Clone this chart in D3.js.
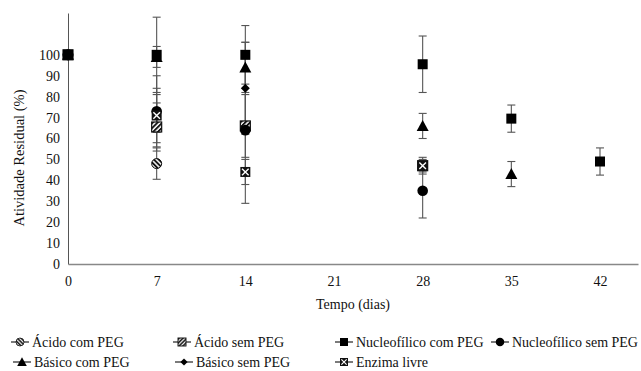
<!DOCTYPE html>
<html>
<head>
<meta charset="utf-8">
<script src="https://cdn.jsdelivr.net/npm/d3@7"></script>
<style>
  body { margin: 0; background: #fff; }
</style>
</head>
<body>
<svg id="chart" width="641" height="371"></svg>
<script>
var FONT = "'Liberation Serif', 'Times New Roman', Times, serif";

// days on the x axis
var days = [0, 7, 14, 21, 28, 35, 42];
var xTicks = [0, 7, 14, 21, 28, 35, 42];
var yTicks = [0, 10, 20, 30, 40, 50, 60, 70, 80, 90, 100];

// residual activity (%) per series, null = not measured
var acidoComPEG     = [100, 48,   null, null, null, null, null];
var acidoComPEGErr  = [0,   7.5,  null, null, null, null, null];
var acidoSemPEG     = [100, 65.5, 66,   null, 47,   null, null];
var acidoSemPEGErr  = [0,   11.5, 15,   null, 4,    null, null];
var nucComPEG       = [100, 100,  100,  null, 95.5, 69.5, 49];
var nucComPEGErr    = [0,   18,   14,   null, 13.5, 6.5,  6.5];
var nucSemPEG       = [100, 73,   64,   null, 35,   null, null];
var nucSemPEGErr    = [0,   17,   35,   null, 13,   null, null];
var basicoComPEG    = [100, 99,   94,   null, 66,   43,   null];
var basicoComPEGErr = [0,   5,    12,   null, 6,    6,    null];
var basicoSemPEG    = [100, 72,   84,   null, null, null, null];
var basicoSemPEGErr = [0,   9,    22,   null, null, null, null];
var enzimaLivre     = [100, 71,   44,   null, 47,   null, null];
var enzimaLivreErr  = [0,   13,   6,    null, 3,    null, null];

var series = [
  {name: "Ácido com PEG", values: acidoComPEG, err: acidoComPEGErr, shape: "hatchCircle"},
  {name: "Ácido sem PEG", values: acidoSemPEG, err: acidoSemPEGErr, shape: "hatchSquare"},
  {name: "Nucleofílico com PEG", values: nucComPEG, err: nucComPEGErr, shape: "square"},
  {name: "Nucleofílico sem PEG", values: nucSemPEG, err: nucSemPEGErr, shape: "circle"},
  {name: "Básico com PEG", values: basicoComPEG, err: basicoComPEGErr, shape: "triangle"},
  {name: "Básico sem PEG", values: basicoSemPEG, err: basicoSemPEGErr, shape: "diamond"},
  {name: "Enzima livre", values: enzimaLivre, err: enzimaLivreErr, shape: "xSquare"}
];
// marker stacking order (the black square sits on top in the picture)
var drawOrder = [0, 1, 3, 4, 5, 6, 2];

var svg = d3.select("#chart");

var x = d3.scaleLinear().domain([0, 45]).range([68, 638]);
var y = d3.scaleLinear().domain([0, 120]).range([264, 13]);

// hatch patterns
var defs = svg.append("defs");
function hatch(id, angle) {
  var p = defs.append("pattern")
      .attr("id", id)
      .attr("patternUnits", "userSpaceOnUse")
      .attr("width", 3.4)
      .attr("height", 3.4)
      .attr("patternTransform", "rotate(" + angle + ")");
  p.append("rect").attr("width", 3.4).attr("height", 3.4).attr("fill", "#fff");
  p.append("rect").attr("width", 1.9).attr("height", 3.4).attr("fill", "#111");
}
hatch("hatchA", -45);
hatch("hatchB", 45);

// axes
var yAxis = svg.append("g")
    .attr("transform", "translate(" + x(0) + ",0)")
    .call(d3.axisLeft(y).tickValues(yTicks).tickSize(0).tickPadding(8));
yAxis.select(".domain").attr("stroke", "#555").attr("stroke-width", 1);

var xAxis = svg.append("g")
    .attr("transform", "translate(0," + y(0) + ")")
    .call(d3.axisBottom(x).tickValues(xTicks).tickSize(0).tickPadding(12));
xAxis.select(".domain").attr("stroke", "#888").attr("stroke-width", 1.3);

svg.selectAll(".tick text")
    .attr("fill", "#111")
    .style("font-family", FONT)
    .style("font-size", "14px");

svg.append("text")
    .attr("x", 353).attr("y", 309)
    .attr("text-anchor", "middle")
    .style("font-family", FONT)
    .style("font-size", "14px")
    .attr("fill", "#111")
    .text("Tempo (dias)");

svg.append("text")
    .attr("transform", "translate(24," + 158 + ") rotate(-90)")
    .attr("text-anchor", "middle")
    .style("font-family", FONT)
    .style("font-size", "14.5px")
    .attr("fill", "#111")
    .text("Atividade Residual (%)");

// marker drawing
function drawMarker(g, shape) {
  if (shape === "square") {
    g.append("rect").attr("x", -5).attr("y", -5).attr("width", 10).attr("height", 10).attr("fill", "#000");
  } else if (shape === "circle") {
    g.append("circle").attr("r", 5.3).attr("fill", "#000");
  } else if (shape === "triangle") {
    g.append("path").attr("d", "M0,-6L6,5L-6,5Z").attr("fill", "#000");
  } else if (shape === "diamond") {
    g.append("path").attr("d", "M0,-4.5L4.5,0L0,4.5L-4.5,0Z").attr("fill", "#000");
  } else if (shape === "hatchCircle") {
    g.append("circle").attr("r", 5).attr("fill", "url(#hatchA)").attr("stroke", "#111").attr("stroke-width", 1);
  } else if (shape === "hatchSquare") {
    g.append("rect").attr("x", -5).attr("y", -5).attr("width", 10).attr("height", 10)
        .attr("fill", "url(#hatchB)").attr("stroke", "#111").attr("stroke-width", 1.2);
  } else if (shape === "xSquare") {
    g.append("rect").attr("x", -5).attr("y", -5).attr("width", 10).attr("height", 10).attr("fill", "#111");
    g.append("path").attr("d", "M-3.3,-3.3L3.3,3.3M3.3,-3.3L-3.3,3.3")
        .attr("stroke", "#fff").attr("stroke-width", 1.4);
  }
}

// error bars first, then markers
var plot = svg.append("g");
series.forEach(function(s) {
  days.forEach(function(d, i) {
    var v = s.values[i];
    if (v === null || !s.err[i]) return;
    var e = s.err[i];
    var g = plot.append("g").attr("stroke", "#555").attr("stroke-width", 1.1);
    g.append("line").attr("x1", x(d)).attr("x2", x(d)).attr("y1", y(v - e)).attr("y2", y(v + e));
    g.append("line").attr("x1", x(d) - 4).attr("x2", x(d) + 4).attr("y1", y(v - e)).attr("y2", y(v - e));
    g.append("line").attr("x1", x(d) - 4).attr("x2", x(d) + 4).attr("y1", y(v + e)).attr("y2", y(v + e));
  });
});

drawOrder.forEach(function(k) {
  var s = series[k];
  days.forEach(function(d, i) {
    var v = s.values[i];
    if (v === null) return;
    var g = plot.append("g").attr("transform", "translate(" + x(d) + "," + y(v) + ")");
    drawMarker(g, s.shape);
  });
});

// legend
var legendPos = [
  [20, 342], [182, 342], [344, 342], [500, 342],
  [22, 362], [184, 362], [344, 362]
];
series.forEach(function(s, i) {
  var lg = svg.append("g").attr("transform", "translate(" + legendPos[i][0] + "," + legendPos[i][1] + ")");
  lg.append("line").attr("x1", -9).attr("x2", 9).attr("stroke", "#222").attr("stroke-width", 1.2);
  var m = lg.append("g").attr("transform", "scale(0.8)");
  drawMarker(m, s.shape);
  lg.append("text")
      .attr("x", 12).attr("y", 4.5)
      .style("font-family", FONT)
      .style("font-size", "14px")
      .attr("fill", "#111")
      .text(s.name);
});
</script>
</body>
</html>
